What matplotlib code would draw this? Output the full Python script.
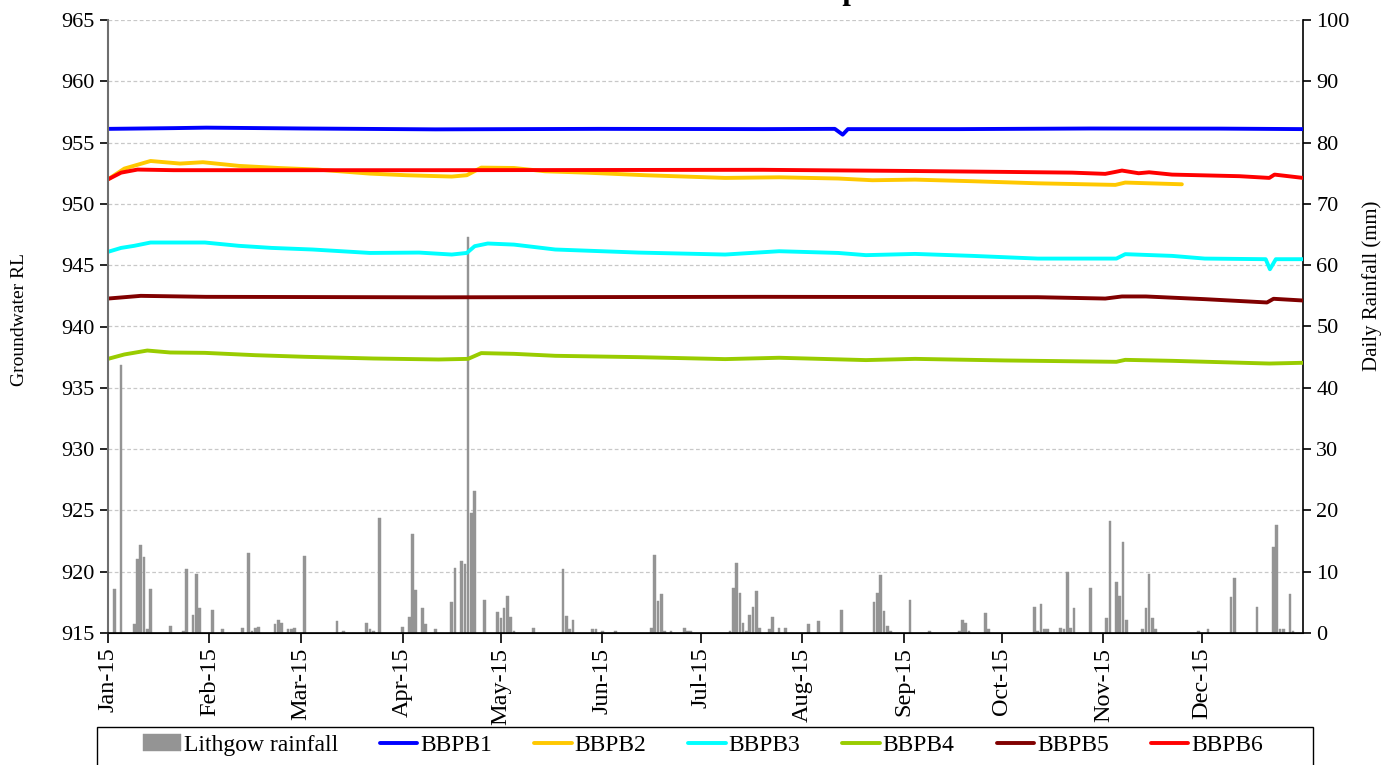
import matplotlib
matplotlib.use("Agg")
import matplotlib.pyplot as plt
import matplotlib.dates as mdates
from matplotlib.patches import Rectangle
import numpy as np
import pandas as pd

# rainfall: day offset from 1 Jan 2015 and daily total in mm
rain_day = [2, 4, 8, 9, 10, 11, 12, 13, 19, 23, 24, 26, 27, 28, 32, 35, 41, 43, 44, 45,
            46, 51, 52, 53, 55, 56, 57, 60, 70, 72, 79, 80, 81, 83, 90, 92, 93, 94, 96, 97,
            100, 105, 106, 108, 109, 110, 111, 112, 115, 119, 120, 121, 122, 123, 124, 130,
            139, 140, 141, 142, 148, 149, 151, 155, 166, 167, 168, 169, 170, 172, 176, 177,
            178, 190, 191, 192, 193, 194, 195, 196, 197, 198, 199, 202, 203, 205, 207, 214,
            217, 224, 234, 235, 236, 237, 238, 239, 245, 251, 260, 261, 262, 263, 268, 269,
            283, 284, 285, 286, 287, 291, 292, 293, 294, 295, 300, 305, 306, 308, 309, 310,
            311, 316, 317, 318, 319, 320, 333, 336, 343, 344, 351, 356, 357, 358, 359, 361, 362]
rain_mm = [7.2, 43.7, 1.4, 12.0, 14.4, 12.4, 0.6, 7.2, 1.2, 0.4, 10.4, 3.0, 9.6, 4.0, 3.8, 0.6,
           0.8, 13.0, 0.4, 0.8, 0.9, 1.4, 2.2, 1.6, 0.6, 0.6, 0.8, 12.6, 2.0, 0.4, 1.6, 0.6,
           0.4, 18.8, 0.9, 2.6, 16.2, 7.0, 4.0, 1.4, 0.6, 5.0, 10.6, 11.8, 11.3, 64.6, 19.6,
           23.2, 5.4, 3.4, 2.4, 4.0, 6.0, 2.6, 0.4, 0.8, 10.4, 2.8, 0.6, 2.2, 0.6, 0.6, 0.4,
           0.4, 0.8, 12.8, 5.2, 6.4, 0.4, 0.4, 0.8, 0.4, 0.4, 0.4, 7.4, 11.4, 6.6, 1.6, 0.4,
           2.9, 4.2, 6.8, 0.8, 0.6, 2.6, 0.8, 0.8, 1.4, 2.0, 3.8, 5.0, 6.6, 9.4, 3.6, 1.1, 0.4,
           5.4, 0.4, 0.4, 2.2, 1.6, 0.4, 3.2, 0.6, 4.2, 0.4, 4.8, 0.6, 0.6, 0.8, 0.6, 10.0, 0.8,
           4.0, 7.4, 2.4, 18.2, 8.4, 6.0, 14.8, 2.2, 0.6, 4.0, 9.6, 2.4, 0.6, 0.4, 0.6, 5.8,
           9.0, 4.2, 14.0, 17.6, 0.6, 0.6, 6.4, 0.4]

# groundwater levels (m RL), read at day offsets
b1_day = [0, 20, 30, 60, 100, 150, 200, 222, 224.4, 226, 260, 300, 340, 365]
b1_rl = [956.12, 956.18, 956.22, 956.15, 956.08, 956.12, 956.1, 956.12, 955.65, 956.1,
         956.1, 956.15, 956.14, 956.1]

b2_day = [0, 5, 13, 22, 29, 40, 52, 64, 80, 91, 105, 109.6, 114, 124, 133.5, 146, 164,
          188.5, 205, 223, 233.5, 246.5, 264, 284, 307.7, 310.7, 328]
b2_rl = [952.0, 952.88, 953.5, 953.29, 953.4, 953.1, 952.93, 952.8, 952.47, 952.34, 952.23,
         952.34, 952.96, 952.93, 952.66, 952.55, 952.34, 952.12, 952.17, 952.07, 951.93,
         951.98, 951.85, 951.68, 951.55, 951.74, 951.6]

b3_day = [0, 4, 8, 13, 29.6, 40, 50, 62.5, 80, 95, 105, 109.6, 112, 116, 124, 136.6, 162,
          188.5, 205, 223, 231.5, 246.5, 264, 284, 308, 310.7, 325, 335, 353.6, 354.9,
          356.7, 365]
b3_rl = [946.09, 946.41, 946.58, 946.85, 946.85, 946.58, 946.41, 946.28, 946.0, 946.03,
         945.87, 946.0, 946.55, 946.77, 946.68, 946.28, 946.03, 945.87, 946.14, 946.0,
         945.82, 945.92, 945.76, 945.54, 945.54, 945.9, 945.76, 945.54, 945.49, 944.67,
         945.49, 945.49]

b4_day = [0, 5, 12, 19, 29.6, 45, 60, 81, 101, 110, 114, 124, 136.6, 162, 188.5, 205,
          231.5, 246.5, 274, 308, 310.7, 325, 354.7, 365]
b4_rl = [937.36, 937.72, 938.04, 937.88, 937.85, 937.66, 937.53, 937.39, 937.31, 937.36,
         937.83, 937.77, 937.61, 937.5, 937.34, 937.45, 937.26, 937.36, 937.23, 937.12,
         937.28, 937.2, 936.98, 937.04]

b5_day = [0, 10, 30, 100, 200, 284, 304.6, 309.7, 317, 335, 354, 356, 365]
b5_rl = [942.28, 942.5, 942.42, 942.38, 942.42, 942.39, 942.28, 942.45, 942.45, 942.23,
         941.96, 942.26, 942.12]

b6_day = [0, 4, 9, 20, 100, 200, 243, 274, 294.5, 304.6, 307.7, 309.7, 314.8, 318, 325,
          345.6, 354.7, 356.3, 365]
b6_rl = [952.0, 952.55, 952.8, 952.75, 952.75, 952.78, 952.69, 952.61, 952.55, 952.45,
         952.61, 952.72, 952.5, 952.58, 952.39, 952.26, 952.12, 952.39, 952.12]

series = [
    ("BBPB1", b1_day, b1_rl, "#0000ff"),
    ("BBPB2", b2_day, b2_rl, "#ffc800"),
    ("BBPB3", b3_day, b3_rl, "#00ffff"),
    ("BBPB4", b4_day, b4_rl, "#99cc00"),
    ("BBPB5", b5_day, b5_rl, "#800000"),
    ("BBPB6", b6_day, b6_rl, "#ff0000"),
]

month_ticks = pd.date_range("2015-01-01", "2015-12-01", freq="MS")
start = pd.Timestamp("2015-01-01")
end = pd.Timestamp("2016-01-01")


def to_dates(days):
    return start + pd.to_timedelta(np.asarray(days, dtype=float), unit="D")


plt.rcParams["font.family"] = ["Liberation Serif", "DejaVu Serif"]
plt.rcParams["font.size"] = 16

W, H = 1400, 765
fig = plt.figure(figsize=(W / 100, H / 100), dpi=100)
ax = fig.add_axes([108 / W, 1 - 633 / H, 1195 / W, 613 / H])
ax2 = ax.twinx()

ax.set_zorder(2)
ax.patch.set_visible(False)

for name, d, v, c in series:
    ax.plot(to_dates(d), v, color=c, lw=2.8, label=name, solid_capstyle="round")

ax2.bar(to_dates(rain_day), rain_mm, width=0.8, color="#949494",
        edgecolor="#949494", linewidth=0.3, label="Lithgow rainfall")

ax.set_ylim(915, 965)
ax.set_yticks(np.arange(915, 966, 5))
ax2.set_ylim(0, 100)
ax2.set_yticks(np.arange(0, 101, 10))
ax.set_xlim(start, end)

ax.set_xticks(month_ticks)
ax.xaxis.set_major_formatter(mdates.DateFormatter("%b-%y"))

ax2.grid(True, axis="y", ls=(0, (3, 2)), color="#c8c8c8", lw=0.9)
ax2.set_axisbelow(True)

for a in (ax, ax2):
    a.spines["top"].set_visible(False)
    a.tick_params(direction="out", length=6, width=1.2, labelsize=16)
ax.tick_params(axis="x", length=7, labelsize=17.5)
plt.setp(ax.get_xticklabels(), rotation=90, ha="center", va="top")
ax.spines["left"].set_color("#6e6e6e")
ax.spines["left"].set_linewidth(1.5)
ax2.spines["left"].set_visible(False)
ax.spines["right"].set_visible(False)
ax2.spines["right"].set_linewidth(1.2)
ax.spines["bottom"].set_linewidth(1.2)

ax.set_ylabel("Groundwater RL", fontsize=14)
ax.yaxis.set_label_coords((28 - 108) / 1195, (633 - 320) / 613)
ax2.set_ylabel("Daily Rainfall (mm)", fontsize=15)
ax2.yaxis.set_label_coords((1362 - 108) / 1195, (633 - 286) / 613)

# title sits mostly above the canvas; only the descender shows
fig.text(0.52, 1.0015, "Groundwater Level Comparison", ha="center", va="baseline",
         fontsize=22, fontweight="bold")

h1, l1 = ax2.get_legend_handles_labels()
h2, l2 = ax.get_legend_handles_labels()
fig.legend(h1 + h2, l1 + l2, loc="center", ncol=7, frameon=False,
           bbox_to_anchor=(703 / W, 1 - 745 / H), handlelength=1.6,
           handletextpad=0.12, columnspacing=1.77, fontsize=17)
fig.patches.append(Rectangle((97 / W, -0.02), 1216 / W, 0.02 + (H - 727) / H,
                             transform=fig.transFigure, fill=False, edgecolor="black",
                             linewidth=1.0))

fig.savefig("out.png", dpi=100)
